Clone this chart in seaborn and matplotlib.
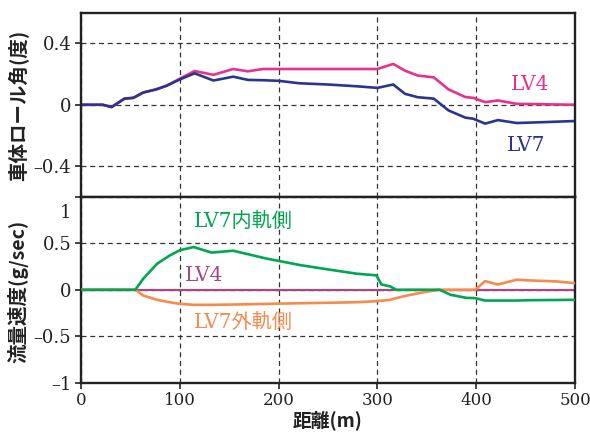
import seaborn as sns
sns.set_style("ticks")
from matplotlib import pyplot as plt
from matplotlib import transforms
import numpy as np
import pandas as pd

plt.rcParams['font.family'] = ['DejaVu Serif', 'Noto Sans CJK JP']

# 車体ロール角 (top panel)
roll_dist = [0, 22, 31, 44, 53, 63, 76, 87, 100, 115, 134, 154, 169, 184, 200, 221, 250,
             280, 300, 316, 328, 341, 357, 372, 389, 397, 409, 422, 441, 470, 500]
roll_lv4 = [0, 0, -0.015, 0.04, 0.045, 0.08, 0.10, 0.125, 0.17, 0.22, 0.195, 0.233, 0.218, 0.233, 0.233, 0.233, 0.233,
            0.233, 0.233, 0.266, 0.222, 0.19, 0.179, 0.10, 0.05, 0.045, 0.017, 0.028, 0.006, 0.003, 0.0]
roll_lv7 = [0, 0, -0.015, 0.04, 0.045, 0.08, 0.10, 0.125, 0.165, 0.205, 0.158, 0.183, 0.162, 0.16, 0.156, 0.14, 0.132,
            0.12, 0.11, 0.132, 0.071, 0.049, 0.04, -0.037, -0.084, -0.091, -0.123, -0.10, -0.119, -0.113, -0.106]

# 流量速度 (bottom panel)
flow_dist = [0, 55, 63, 77, 90, 100, 114, 132, 154, 174, 188, 205, 222, 245, 279, 299,
             304, 313, 319, 330, 347, 363, 374, 390, 399, 409, 422, 441, 455, 481, 500]
flow_in = [0, 0, 0.119, 0.28, 0.37, 0.425, 0.46, 0.40, 0.42, 0.37, 0.335, 0.30, 0.265, 0.227, 0.173, 0.155,
           0.057, 0.036, 0, 0, 0, 0, -0.054, -0.087, -0.09, -0.116, -0.116, -0.116, -0.112, -0.11, -0.108]
flow_out = [0, 0, -0.062, -0.108, -0.135, -0.152, -0.162, -0.162, -0.159, -0.155, -0.152, -0.148, -0.145, -0.141, -0.134, -0.123,
            -0.118, -0.108, -0.09, -0.062, -0.026, 0, 0, 0, 0, 0.093, 0.057, 0.108, 0.10, 0.09, 0.071]
flow_lv4_dist = [0, 500]
flow_lv4 = [0, 0]

roll_ticks = [-0.4, 0, 0.4]
roll_ticklabels = ['\u20130.4', '0', '0.4']
flow_ticks = [-1, -0.5, 0, 0.5, 1]
flow_ticklabels = ['\u20131', '\u20130.5', '0', '0.5', '1']
dist_ticks = [0, 100, 200, 300, 400, 500]

pink = '#e8318f'
navy = '#2b3590'
green = '#00a650'
orange = '#f58b4c'
purple = '#a5497f'
ink = '#222222'

fig = plt.figure(figsize=(5.9, 4.32), dpi=100)
ax1 = fig.add_axes([0.1373, 0.5444, 0.8373, 0.4262])
ax2 = fig.add_axes([0.1373, 0.1141, 0.8373, 0.4303], sharex=ax1)

lw = 1.9
sns.lineplot(x=roll_dist, y=roll_lv4, ax=ax1, color=pink, lw=lw)
sns.lineplot(x=roll_dist, y=roll_lv7, ax=ax1, color=navy, lw=lw)

sns.lineplot(x=flow_lv4_dist, y=flow_lv4, ax=ax2, color=purple, lw=1.6, zorder=2)
sns.lineplot(x=flow_dist, y=flow_out, ax=ax2, color=orange, lw=lw, zorder=3)
sns.lineplot(x=flow_dist, y=flow_in, ax=ax2, color=green, lw=lw, zorder=4)

for ax in (ax1, ax2):
    ax.set_xlim(0, 500)
    ax.set_xticks(dist_ticks)
    ax.grid(True, color='#333333', ls=(0, (4, 3)), lw=0.9)
    for s in ax.spines.values():
        s.set_linewidth(1.7)
        s.set_color(ink)
        s.set_visible(True)
    ax.tick_params(direction='out', length=4, width=1.2, colors=ink, pad=3)
    ax.tick_params(axis='y', labelsize=13)
    ax.tick_params(axis='x', labelsize=12)
    ax.set_xlabel('')
    ax.set_ylabel('')

ax1.set_ylim(-0.6, 0.6)
ax1.set_yticks(roll_ticks)
ax1.set_yticklabels(roll_ticklabels)
ax1.tick_params(axis='x', labelbottom=False, length=0)

ax2.set_ylim(-1, 1)
ax2.set_yticks(flow_ticks)
ax2.set_yticklabels(flow_ticklabels)
fig.canvas.draw()
# the "1" label sits a little below its tick in the reference
lab = ax2.get_yticklabels()[-1]
lab.set_transform(lab.get_transform() + transforms.ScaledTranslation(0, -10 / 72, fig.dpi_scale_trans))

fig.text(0.031, 0.755, '車体ロール角(度)', rotation=90, ha='center', va='center',
         fontsize=14, family=['Noto Sans CJK JP'], fontweight='bold', color=ink)
fig.text(0.031, 0.326, '流量速度(g/sec)', rotation=90, ha='center', va='center',
         fontsize=14, family=['Noto Sans CJK JP'], fontweight='bold', color=ink)
fig.text(0.556, 0.028, '距離(m)', ha='center', va='center',
         fontsize=13.5, family=['Noto Sans CJK JP'], fontweight='bold', color=ink)

ax1.text(455, 0.13, 'LV4', color=pink, fontsize=14.5, ha='center', va='center')
ax1.text(451, -0.265, 'LV7', color=navy, fontsize=14.5, ha='center', va='center')
ax2.text(164, 0.73, 'LV7内軌側', color=green, fontsize=14.5, ha='center', va='center')
ax2.text(125, 0.15, 'LV4', color=purple, fontsize=14.5, ha='center', va='center')
ax2.text(164, -0.35, 'LV7外軌側', color=orange, fontsize=14.5, ha='center', va='center')

fig.savefig('out.png', dpi=100)
